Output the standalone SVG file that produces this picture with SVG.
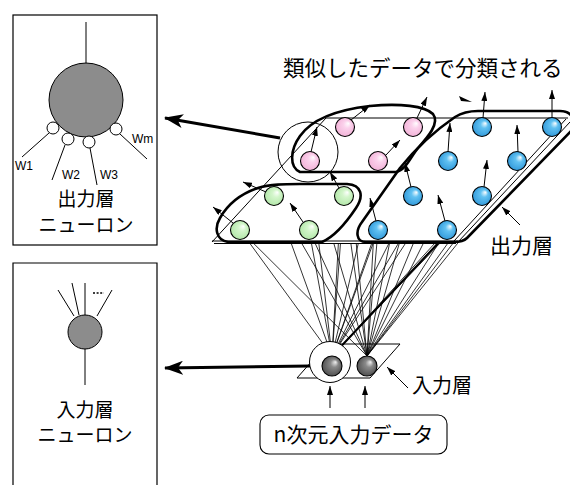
<svg xmlns="http://www.w3.org/2000/svg" width="570" height="485" viewBox="0 0 570 485">
<style>
.box{fill:#fff;stroke:#000;stroke-width:1.2}
.thin{fill:none;stroke:#000;stroke-width:1}
.blob{fill:none;stroke:#000;stroke-width:2.6;stroke-linejoin:round;stroke-linecap:round}
.conn line{stroke:#000;stroke-width:0.8}
.arr{stroke:#000;stroke-width:1;fill:none;marker-end:url(#sh)}
.big{stroke:#000;stroke-width:3;fill:none;marker-end:url(#bh)}
.nr{stroke:#000;stroke-width:1.1}
.jp{font-family:"Noto Sans CJK JP","Noto Sans",sans-serif;fill:#000}
.w{font-family:"Liberation Sans",Arial,sans-serif;font-size:12px;fill:#000}
</style>
<defs>
<radialGradient id="gp" cx="0.5" cy="0.5" r="0.55" fx="0.68" fy="0.3"><stop offset="0" stop-color="#fff"/><stop offset="0.35" stop-color="#fbd2ec"/><stop offset="1" stop-color="#f2b0d6"/></radialGradient>
<radialGradient id="gg" cx="0.5" cy="0.5" r="0.55" fx="0.68" fy="0.3"><stop offset="0" stop-color="#fff"/><stop offset="0.35" stop-color="#d4f6cc"/><stop offset="1" stop-color="#b0e6a6"/></radialGradient>
<radialGradient id="gb" cx="0.5" cy="0.5" r="0.55" fx="0.68" fy="0.3"><stop offset="0" stop-color="#fff"/><stop offset="0.35" stop-color="#62c2f2"/><stop offset="1" stop-color="#2e96d8"/></radialGradient>
<radialGradient id="gd" cx="0.5" cy="0.5" r="0.55" fx="0.68" fy="0.3"><stop offset="0" stop-color="#f0f0f0"/><stop offset="0.35" stop-color="#8a8a8a"/><stop offset="1" stop-color="#4a4a4a"/></radialGradient>
<marker id="sh" markerUnits="userSpaceOnUse" markerWidth="9" markerHeight="6" refX="9" refY="3" orient="auto"><path d="M0,0 L9,3 L0,6 Z" fill="#000"/></marker>
<marker id="bh" markerUnits="userSpaceOnUse" markerWidth="20" markerHeight="14" refX="18" refY="7" orient="auto"><path d="M0,0 L19,7 L0,14 L5,7 Z" fill="#000"/></marker>
</defs>
<rect width="570" height="485" fill="#fff"/>

<g id="output-neuron-box">
<rect class="box" x="13" y="15" width="144" height="230"/>
<line class="thin" x1="86" y1="22" x2="86" y2="64"/>
<line class="thin" x1="49" y1="133" x2="22" y2="157"/>
<line class="thin" x1="65" y1="145" x2="52" y2="180"/>
<line class="thin" x1="90" y1="148" x2="97" y2="185"/>
<line class="thin" x1="120" y1="134" x2="147" y2="159"/>
<circle cx="86" cy="100" r="37" fill="#8c8c8c" stroke="#000" stroke-width="1"/>
<circle cx="53" cy="128" r="6" fill="#fff" stroke="#000"/>
<circle cx="68" cy="139" r="6" fill="#fff" stroke="#000"/>
<circle cx="89" cy="142" r="6" fill="#fff" stroke="#000"/>
<circle cx="116" cy="129" r="6" fill="#fff" stroke="#000"/>
<text class="w" x="15" y="170">W1</text>
<text class="w" x="62" y="179">W2</text>
<text class="w" x="100" y="179">W3</text>
<text class="w" x="132" y="143">Wm</text>
<text class="jp" x="86" y="206" font-size="19" text-anchor="middle">出力層</text>
<text class="jp" x="86" y="232" font-size="19" text-anchor="middle">ニューロン</text>
</g>

<g id="input-neuron-box">
<path class="box" d="M13,487 V263 H157 V487"/>
<line class="thin" x1="85" y1="283" x2="85" y2="385"/>
<line class="thin" x1="58" y1="290" x2="74" y2="316"/>
<line class="thin" x1="72" y1="283" x2="79" y2="315"/>
<line class="thin" x1="112" y1="290" x2="97" y2="316"/>
<line x1="93" y1="293" x2="104" y2="293" stroke="#000" stroke-width="1.5" stroke-dasharray="2 1.6"/>
<circle cx="85" cy="332" r="17" fill="#8c8c8c" stroke="#000" stroke-width="1"/>
<text class="jp" x="85" y="417" font-size="19" text-anchor="middle">入力層</text>
<text class="jp" x="85" y="442" font-size="19" text-anchor="middle">ニューロン</text>
</g>

<g id="title">
<text class="jp" x="283" y="76" font-size="21.5">類似したデータで分類される</text>
</g>

<g id="output-layer">
<path class="thin" d="M212,242 L326,118 L568,118"/>
<line class="thin" x1="566" y1="119" x2="454" y2="241"/>
<line class="thin" x1="570" y1="122" x2="458" y2="242"/>
<line x1="212" y1="241" x2="458" y2="241" stroke="#000" stroke-width="1.2"/>
<line x1="214" y1="243.5" x2="456" y2="243.5" stroke="#000" stroke-width="1"/>
</g>

<g id="connectors" class="conn">
<line x1="332" y1="356" x2="338.4" y2="243"/>
<line x1="332" y1="356" x2="371.8" y2="243"/>
<line x1="332" y1="356" x2="405.7" y2="243"/>
<line x1="332" y1="356" x2="440.1" y2="243"/>
<line x1="332" y1="356" x2="318.8" y2="243"/>
<line x1="332" y1="356" x2="358.4" y2="243"/>
<line x1="332" y1="356" x2="398.6" y2="243"/>
<line x1="332" y1="356" x2="438.3" y2="243" style="stroke-width:2"/>
<line x1="332" y1="356" x2="291.1" y2="243"/>
<line x1="332" y1="356" x2="340.5" y2="243"/>
<line x1="332" y1="356" x2="389.1" y2="243"/>
<line x1="332" y1="356" x2="437.7" y2="243"/>
<line x1="332" y1="356" x2="249.6" y2="243"/>
<line x1="332" y1="356" x2="311.4" y2="243"/>
<line x1="332" y1="356" x2="373.2" y2="243"/>
<line x1="332" y1="356" x2="435.0" y2="243"/>
<line x1="367" y1="356" x2="356.2" y2="243"/>
<line x1="367" y1="356" x2="389.6" y2="243"/>
<line x1="367" y1="356" x2="423.5" y2="243"/>
<line x1="367" y1="356" x2="457.9" y2="243"/>
<line x1="367" y1="356" x2="333.7" y2="243"/>
<line x1="367" y1="356" x2="373.3" y2="243"/>
<line x1="367" y1="356" x2="413.5" y2="243"/>
<line x1="367" y1="356" x2="453.2" y2="243"/>
<line x1="367" y1="356" x2="301.5" y2="243"/>
<line x1="367" y1="356" x2="350.8" y2="243"/>
<line x1="367" y1="356" x2="399.4" y2="243"/>
<line x1="367" y1="356" x2="448.0" y2="243"/>
<line x1="367" y1="356" x2="253.2" y2="243"/>
<line x1="367" y1="356" x2="315.0" y2="243"/>
<line x1="367" y1="356" x2="376.9" y2="243"/>
<line x1="367" y1="356" x2="438.7" y2="243"/>
</g>

<g id="pink-cluster">
<path class="blob" d="M300,172 C289,167 290,150 300,136 C312,119 335,110 370,106 C400,103 425,106 433,114 C440,123 428,137 418,148 C410,158 406,170 396,172 Z"/>
</g>
<g id="green-cluster">
<path class="blob" d="M228,242 C216,240 214,228 220,218 C228,204 240,194 258,188 C270,184 285,184 300,184 L347,184 C362,185 364,196 356,208 C348,220 336,236 322,242 Z"/>
</g>
<g id="blue-cluster">
<path class="blob" d="M478,111 L560,111 C572,111 576,120 572,130 L467,238 C464,241 460,242 454,242 L366,242 C356,242 355,231 362,222 L400,168 C416,148 436,130 455,117 C463,112 470,111 478,111 Z"/>
</g>

<g id="weight-arrows">
<line class="arr" x1="351" y1="120" x2="370" y2="105"/>
<line class="arr" x1="417" y1="118" x2="427" y2="97"/>
<line class="arr" x1="311" y1="152" x2="317" y2="127"/>
<line class="arr" x1="386" y1="155" x2="400" y2="140"/>
<line class="arr" x1="483" y1="118" x2="485" y2="92"/>
<line class="arr" x1="552" y1="118" x2="552" y2="90"/>
<line class="arr" x1="448" y1="152" x2="450" y2="123"/>
<line class="arr" x1="518" y1="152" x2="517" y2="125"/>
<line class="arr" x1="411" y1="187" x2="405" y2="163"/>
<line class="arr" x1="484" y1="187" x2="487" y2="160"/>
<line class="arr" x1="376" y1="221" x2="370" y2="198"/>
<line class="arr" x1="445" y1="221" x2="438" y2="195"/>
<line class="arr" x1="266" y1="192" x2="243" y2="182"/>
<line class="arr" x1="339" y1="188" x2="330" y2="172"/>
<line class="arr" x1="233" y1="223" x2="213" y2="207"/>
<line class="arr" x1="303" y1="222" x2="290" y2="203"/>
<path d="M459,96 L472,102 L461,101 Z" fill="#000"/>
</g>

<g id="output-neurons">
<circle class="nr" cx="345" cy="127" r="9.5" fill="url(#gp)"/>
<circle class="nr" cx="413" cy="127" r="9.5" fill="url(#gp)"/>
<circle class="nr" cx="310" cy="161" r="9.5" fill="url(#gp)"/>
<circle class="nr" cx="378" cy="161" r="9.5" fill="url(#gp)"/>
<circle class="nr" cx="274" cy="196" r="9.5" fill="url(#gg)"/>
<circle class="nr" cx="344" cy="196" r="9.5" fill="url(#gg)"/>
<circle class="nr" cx="240" cy="230" r="9.5" fill="url(#gg)"/>
<circle class="nr" cx="309" cy="230" r="9.5" fill="url(#gg)"/>
<circle class="nr" cx="482" cy="127" r="9.5" fill="url(#gb)"/>
<circle class="nr" cx="552" cy="127" r="9.5" fill="url(#gb)"/>
<circle class="nr" cx="448" cy="161" r="9.5" fill="url(#gb)"/>
<circle class="nr" cx="517" cy="161" r="9.5" fill="url(#gb)"/>
<circle class="nr" cx="413" cy="196" r="9.5" fill="url(#gb)"/>
<circle class="nr" cx="482" cy="196" r="9.5" fill="url(#gb)"/>
<circle class="nr" cx="378" cy="230" r="9.5" fill="url(#gb)"/>
<circle class="nr" cx="447" cy="230" r="9.5" fill="url(#gb)"/>
<circle class="thin" cx="308" cy="152" r="30"/>
</g>

<g id="output-label">
<line class="arr" x1="520" y1="225" x2="502" y2="207"/>
<text class="jp" x="490" y="253" font-size="21">出力層</text>
</g>

<g id="input-layer">
<path class="thin" d="M297,378 L370,378 L400,344 L327,344 Z"/>
<circle cx="330" cy="362" r="20.5" fill="#fff" stroke="#000" stroke-width="1"/>
<circle class="nr" cx="332" cy="366" r="10" fill="url(#gd)"/>
<circle class="nr" cx="367" cy="366" r="10" fill="url(#gd)"/>
<line class="arr" x1="330" y1="408" x2="330" y2="386"/>
<line class="arr" x1="365" y1="408" x2="365" y2="386"/>
</g>

<g id="input-label">
<line class="arr" x1="408" y1="388" x2="387" y2="367"/>
<text class="jp" x="412" y="393" font-size="20">入力層</text>
</g>

<g id="input-data">
<rect x="260" y="415" width="187" height="39" rx="9" fill="#fff" stroke="#000" stroke-width="1.1"/>
<text class="jp" x="353.5" y="442" font-size="21" text-anchor="middle">n次元入力データ</text>
</g>

<g id="big-arrows">
<line class="big" x1="280" y1="138" x2="165" y2="118"/>
<line class="big" x1="310" y1="366" x2="165" y2="368"/>
</g>
</svg>
